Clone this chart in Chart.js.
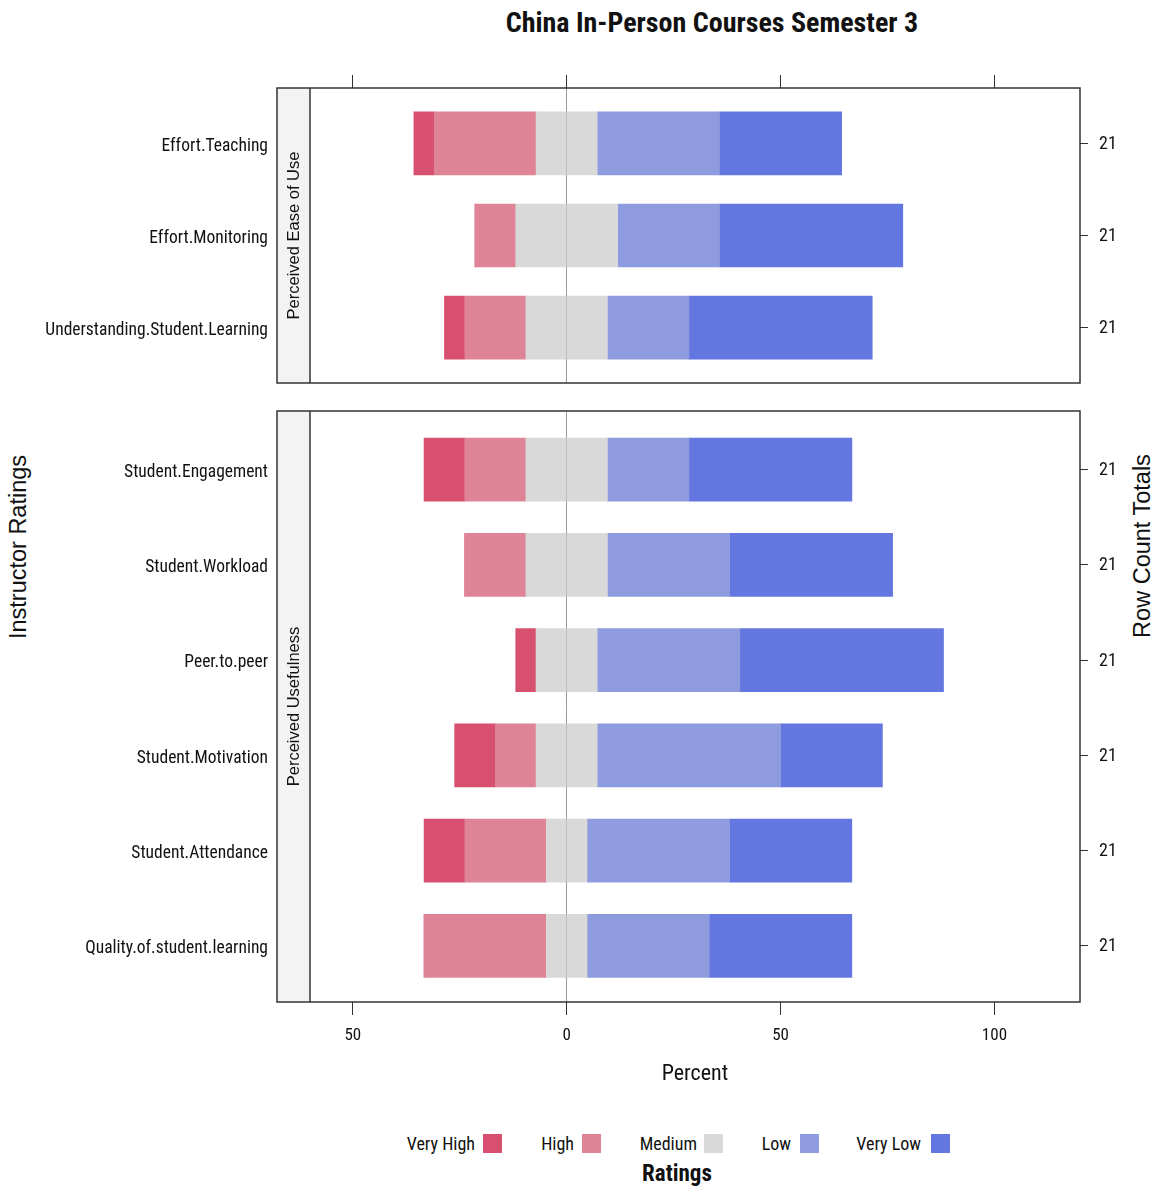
<!DOCTYPE html>
<html>
<head>
<meta charset="utf-8">
<script src="https://cdn.jsdelivr.net/npm/chart.js@4.4.1/dist/chart.umd.min.js"></script>
<style>
  html, body { margin:0; padding:0; background:#fff; }
  body { width:1157px; height:1187px; position:relative; overflow:hidden; font-family:"Roboto Condensed","Liberation Sans",Arial,sans-serif; color:#111; }
  canvas { position:absolute; left:0; }
  .abs { position:absolute; white-space:nowrap; }
  #title { left:712px; top:22px; transform:translate(-50%,-50%); font-weight:bold; font-size:28px; color:#111; }
  .vtitle { font-family:"Liberation Sans",Arial,sans-serif; font-size:23.5px; color:#111; transform:translate(-50%,-50%) rotate(-90deg); }
  .leg { font-size:18px; top:1143px; transform:translateY(-50%); color:#111; }
  .sw { position:absolute; width:19px; height:19px; top:1134px; }
  #ratings { left:677px; top:1173px; transform:translate(-50%,-50%); font-weight:bold; font-size:23px; color:#111; }
</style>
</head>
<body>
<div id="title" class="abs">China In-Person Courses Semester 3</div>
<div class="abs vtitle" style="left:18px; top:547px;">Instructor Ratings</div>
<div class="abs vtitle" style="left:1142px; top:546px;">Row Count Totals</div>
<canvas id="top" width="1157" height="326" style="top:60px"></canvas>
<canvas id="bot" width="1157" height="700" style="top:400px"></canvas>
<div id="legend"></div>
<div id="ratings" class="abs">Ratings</div>
<script>
// ---------------- data ----------------
const ratingLevels = ["Very High", "High", "Medium", "Low", "Very Low"];
const ratingColors = ["#D8506F", "#DF8397", "#D9D9D9", "#8F9BDF", "#6477E0"];

const easeRows = ["Effort.Teaching", "Effort.Monitoring", "Understanding.Student.Learning"];
const easeVeryHigh = [4.76, 0, 4.76];
const easeHigh     = [23.81, 9.52, 14.29];
const easeMedium   = [14.29, 23.81, 19.05];
const easeLow      = [28.57, 23.81, 19.05];
const easeVeryLow  = [28.57, 42.86, 42.86];
const easeTotals   = ["21", "21", "21"];

const usefRows = ["Student.Engagement", "Student.Workload", "Peer.to.peer", "Student.Motivation", "Student.Attendance", "Quality.of.student.learning"];
const usefVeryHigh = [9.52, 0, 4.76, 9.52, 9.52, 0];
const usefHigh     = [14.29, 14.29, 0, 9.52, 19.05, 28.57];
const usefMedium   = [19.05, 19.05, 14.29, 14.29, 9.52, 9.52];
const usefLow      = [19.05, 28.57, 33.33, 42.86, 33.33, 28.57];
const usefVeryLow  = [38.10, 38.10, 47.62, 23.81, 28.57, 33.33];
const usefTotals   = ["21", "21", "21", "21", "21", "21"];

const xTickValues = [-50, 0, 50, 100];
const xMin = -60, xMax = 120;

// ---------------- helpers ----------------
const REG = '"Liberation Sans",Arial,sans-serif';
const COND = '"Roboto Condensed","Liberation Sans",Arial,sans-serif';

function makeDatasets(vh, h, m, l, vl) {
  const neg = a => a.map(v => -v);
  const half = a => a.map(v => v / 2);
  return [
    { label: "Medium", data: neg(half(m)), backgroundColor: ratingColors[2] },
    { label: "High", data: neg(h), backgroundColor: ratingColors[1] },
    { label: "Very High", data: neg(vh), backgroundColor: ratingColors[0] },
    { label: "Medium", data: half(m), backgroundColor: ratingColors[2] },
    { label: "Low", data: l, backgroundColor: ratingColors[3] },
    { label: "Very Low", data: vl, backgroundColor: ratingColors[4] }
  ].map(d => Object.assign(d, { stack: "s", barThickness: 63, borderWidth: 0, borderSkipped: false }));
}

const STRIP_W = 33;
function panelPlugin(stripText) {
  return {
    id: "panel",
    beforeDatasetsDraw(chart) {
      const { ctx, chartArea: a } = chart;
      ctx.save();
      ctx.fillStyle = "#F3F3F3";
      ctx.fillRect(a.left - STRIP_W, a.top, STRIP_W, a.bottom - a.top);
      ctx.restore();
    },
    afterDraw(chart) {
      const { ctx, chartArea: a } = chart;
      ctx.save();
      ctx.strokeStyle = "#333";
      ctx.lineWidth = 1.5;
      ctx.strokeRect(a.left - STRIP_W, a.top, a.right - a.left + STRIP_W, a.bottom - a.top);
      ctx.beginPath();
      ctx.moveTo(a.left, a.top);
      ctx.lineTo(a.left, a.bottom);
      ctx.stroke();
      ctx.translate(a.left - STRIP_W / 2, (a.top + a.bottom) / 2);
      ctx.rotate(-Math.PI / 2);
      ctx.fillStyle = "#111";
      ctx.font = "16.5px " + REG;
      ctx.textAlign = "center";
      ctx.textBaseline = "middle";
      ctx.fillText(stripText, 0, 1);
      ctx.restore();
    }
  };
}

const noPad = s => { s.paddingTop = 0; s.paddingBottom = 0; s.paddingLeft = 0; s.paddingRight = 0; };

function makeChart(id, rows, totals, datasets, stripText, isBottom, padTop, padBottom) {
  const idx = rows.map((_, i) => i);
  const yMin = -padTop, yMax = rows.length - 1 + padBottom;
  const xAxis = {
    type: "linear",
    position: isBottom ? "bottom" : "top",
    min: xMin, max: xMax,
    afterBuildTicks: s => { s.ticks = xTickValues.map(v => ({ value: v })); },
    afterFit: s => { noPad(s); s.height = isBottom ? 98 : 28; },
    border: { display: false },
    grid: {
      color: c => (c.tick && c.tick.value === 0) ? "#9a9a9a" : "rgba(0,0,0,0)",
      lineWidth: 1,
      tickColor: "#333",
      tickLength: 13,
      drawTicks: true
    },
    ticks: {
      display: true,
      color: isBottom ? "#111" : "rgba(0,0,0,0)",
      font: { family: COND, size: 17 },
      padding: 11,
      maxRotation: 0,
      callback: v => String(Math.abs(v))
    },
    title: isBottom ? { display: true, text: "Percent", color: "#111", font: { family: COND, size: 22 }, padding: { top: 0, bottom: 12 } } : { display: false }
  };
  return new Chart(document.getElementById(id), {
    type: "bar",
    data: { labels: idx, datasets },
    options: {
      indexAxis: "y",
      responsive: false,
      animation: false,
      events: [],
      layout: { padding: { top: isBottom ? 11 : 0, bottom: isBottom ? 0 : 3, left: 0, right: 0 } },
      plugins: { legend: { display: false }, tooltip: { enabled: false }, title: { display: false } },
      scales: {
        x: xAxis,
        y: {
          type: "linear",
          position: "left",
          reverse: true,
          min: yMin, max: yMax,
          offset: false,
          afterBuildTicks: s => { s.ticks = idx.map(v => ({ value: v })); },
          afterFit: s => { noPad(s); s.width = 310; },
          border: { display: false },
          grid: { display: false, drawTicks: false, offset: false },
          ticks: { color: "#111", font: { family: COND, size: 17.5 }, padding: 42, labelOffset: 3, autoSkip: false, callback: v => rows[v] }
        },
        yR: {
          type: "linear",
          position: "right",
          reverse: true,
          min: yMin, max: yMax,
          offset: false,
          afterBuildTicks: s => { s.ticks = idx.map(v => ({ value: v })); },
          afterFit: s => { noPad(s); s.width = 77; },
          border: { display: false },
          grid: { display: true, drawOnChartArea: false, offset: false, drawTicks: true, tickLength: 8, tickColor: "#333", color: "#333" },
          ticks: { color: "#111", font: { family: COND, size: 18 }, padding: 11, labelOffset: 1, autoSkip: false, callback: v => totals[v] }
        }
      }
    },
    plugins: [panelPlugin(stripText)]
  });
}

makeChart("top", easeRows, easeTotals,
  makeDatasets(easeVeryHigh, easeHigh, easeMedium, easeLow, easeVeryLow),
  "Perceived Ease of Use", false, 0.6, 0.6);
makeChart("bot", usefRows, usefTotals,
  makeDatasets(usefVeryHigh, usefHigh, usefMedium, usefLow, usefVeryLow),
  "Perceived Usefulness", true, 0.615, 0.59);

// ---------------- legend (HTML) ----------------
const legendTextRight = [475, 574, 697, 791, 921];
const legendSwatchLeft = [483, 582, 704, 800, 931];
const legEl = document.getElementById("legend");
ratingLevels.forEach((lv, i) => {
  const t = document.createElement("div");
  t.className = "abs leg";
  t.textContent = lv;
  t.style.right = (1157 - legendTextRight[i]) + "px";
  legEl.appendChild(t);
  const s = document.createElement("div");
  s.className = "sw";
  s.style.left = legendSwatchLeft[i] + "px";
  s.style.background = ratingColors[i];
  legEl.appendChild(s);
});
</script>
</body>
</html>
